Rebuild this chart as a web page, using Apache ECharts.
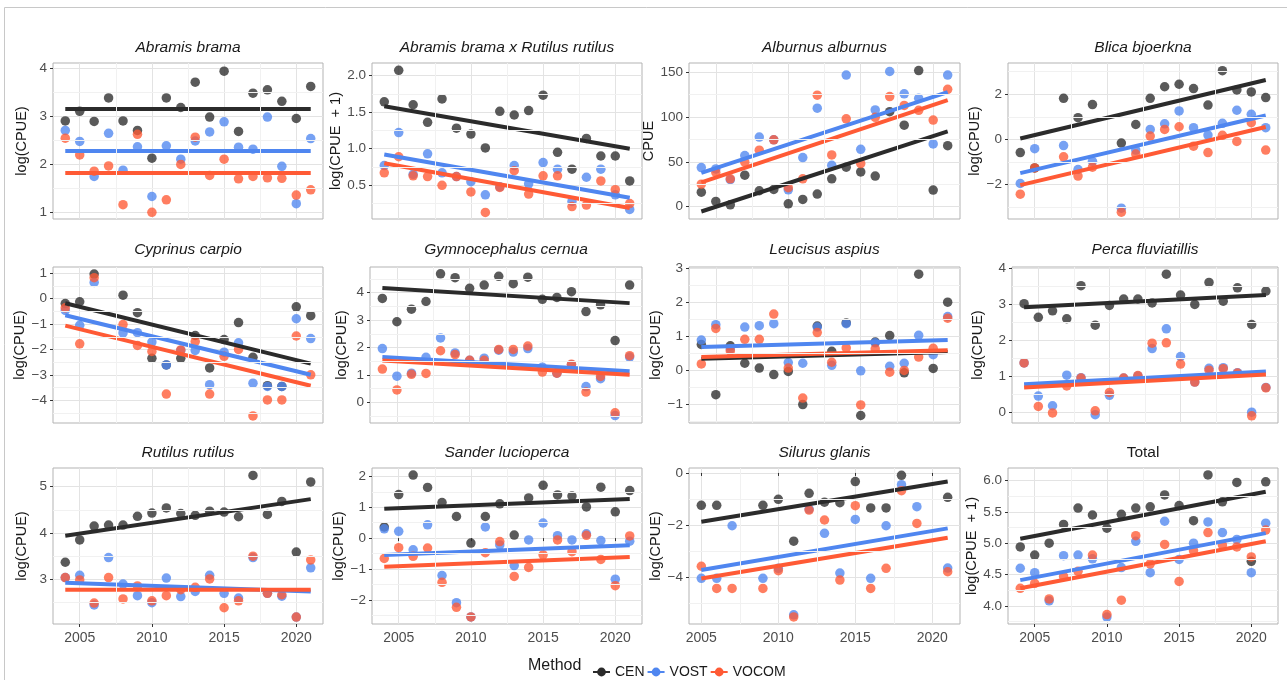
<!DOCTYPE html>
<html>
<head>
<meta charset="utf-8">
<title>CPUE trends by method</title>
<script src="https://cdn.jsdelivr.net/npm/echarts@6.0.0/dist/echarts.min.js"></script>
<style>
  html, body { margin: 0; padding: 0; background: #fff; }
  #main { width: 1287px; height: 680px; }
</style>
</head>
<body>
<div id="main"></div>
<script>
// values, one entry per year (null = no sample)
const years = [2004, 2005, 2006, 2007, 2008, 2009, 2010, 2011, 2012, 2013, 2014, 2015, 2016, 2017, 2018, 2019, 2020, 2021];
const methods = ['CEN', 'VOST', 'VOCOM'];
const speciesNames = ['Abramis brama', 'Abramis brama x Rutilus rutilus', 'Alburnus alburnus', 'Blica bjoerkna',
  'Cyprinus carpio', 'Gymnocephalus cernua', 'Leucisus aspius', 'Perca fluviatillis',
  'Rutilus rutilus', 'Sander lucioperca', 'Silurus glanis', 'Total'];
const yTitles = ['log(CPUE)', 'log(CPUE  + 1)', 'CPUE', 'log(CPUE)',
  'log(CPUE)', 'log(CPUE)', 'log(CPUE)', 'log(CPUE)',
  'log(CPUE)', 'log(CPUE)', 'log(CPUE)', 'log(CPUE  + 1)'];

const cenValues = [
  [2.91, 3.11, 2.90, 3.39, 2.91, 2.71, 2.13, 3.39, 3.19, 3.72, 2.99, 3.95, 2.69, 3.49, 3.56, 3.32, 2.96, 3.63],
  [1.64, 2.07, 1.60, 1.36, 1.68, 1.28, 1.20, 1.01, 1.51, 1.46, 1.52, 1.73, 0.95, 0.72, 1.14, 0.90, 0.90, 0.56],
  [16, 5.6, 1.9, 35, 17.6, 19, 3, 7.9, 13.9, 31, 44, 38.6, 34, 106, 91, 152, 18.4, 68],
  [-0.58, -1.26, null, 1.82, 0.96, 1.54, null, -0.16, 0.66, 1.82, 2.33, 2.44, 2.25, 1.52, 3.04, 2.19, 2.10, 1.85],
  [-0.19, -0.12, 0.97, null, 0.14, -0.55, -2.35, -2.61, -2.35, -1.45, -2.73, -1.61, -0.94, -2.31, -3.43, -3.46, -0.32, -0.67],
  [3.79, 2.94, 3.40, 3.68, 4.69, 4.55, 4.16, 4.28, 4.60, 4.33, 4.57, 3.76, 3.83, 4.04, 3.31, 3.56, 2.25, 4.28],
  [0.76, -0.71, 0.72, 0.21, 0.07, -0.12, -0.03, -1.00, 1.30, 0.56, 1.39, -1.32, 0.83, 1.02, -0.07, 2.82, 0.06, 2.00],
  [3.02, 2.64, 2.82, 2.60, 3.52, 2.42, 2.97, 3.15, 3.15, 3.04, 3.84, 3.26, 3.00, 3.61, 3.09, 3.46, 2.44, 3.37],
  [3.37, 3.85, 4.15, 4.17, 4.17, 4.36, 4.43, 4.54, 4.42, 4.38, 4.47, 4.45, 4.35, 5.24, 4.40, 4.68, 3.59, 5.10],
  [0.36, 1.41, 2.04, 1.64, 1.15, 0.70, -0.16, 0.70, 1.11, 0.10, 1.30, 1.71, 1.40, 1.36, 1.01, 1.65, 0.85, 1.54],
  [null, -1.24, -1.24, null, null, -1.24, -1.01, -2.61, -0.78, -1.12, -1.14, -0.33, -1.34, -1.34, -0.09, null, null, -0.93],
  [4.94, 4.81, 5.00, 5.30, 5.56, 5.45, 5.24, 5.46, 5.56, 5.58, 5.77, 5.60, 5.36, 6.09, 5.66, 5.97, 4.71, 5.98]
];
const vostValues = [
  [2.71, 2.48, 1.75, 2.65, 1.88, 2.37, 1.33, 2.39, 2.11, 2.49, 2.68, 2.89, 2.36, 2.32, 2.99, 1.96, 1.18, 2.54],
  [0.77, 1.22, 0.65, 0.93, 0.67, 0.62, 0.55, 0.37, 0.48, 0.77, 0.52, 0.81, 0.72, 0.28, 0.61, 0.72, 0.37, 0.17],
  [43.5, 42, 30, 57, 77.6, 74.6, 18.7, 54.7, 110, 46, 147, 64, 108, 151, 126, 121, 70, 147],
  [-1.95, -0.41, null, -0.27, -1.33, -0.97, null, -3.04, -0.47, 0.44, 0.69, 1.26, 0.52, 0.19, 0.71, 1.29, 1.11, 0.52],
  [-0.46, -1.05, 0.64, null, -1.35, -1.34, -1.71, -2.61, -2.04, -2.04, -3.39, -2.11, -1.74, -3.33, -3.46, -3.46, -0.79, -1.57],
  [1.96, 0.95, 1.06, 1.64, 2.35, 1.80, 1.53, 1.61, 1.90, 1.83, 1.96, 1.28, 1.06, 1.37, 0.57, 0.86, -0.49, 1.65],
  [0.89, 1.34, 0.63, 1.27, 1.31, 1.37, 0.23, 0.21, 1.27, 0.15, 1.37, -0.01, 0.81, 0.12, 0.21, 1.03, 0.46, 1.58],
  [1.37, 0.45, 0.18, 1.03, 0.96, -0.07, 0.47, 0.95, 1.01, 1.77, 2.32, 1.55, 0.84, 1.22, 1.24, 1.10, 0.00, 0.69],
  [3.04, 3.09, 2.45, 3.47, 2.90, 2.65, 2.50, 3.03, 2.63, 2.74, 3.09, 2.70, 2.60, 3.47, 2.70, 2.64, 2.19, 3.25],
  [0.30, 0.22, -0.38, 0.43, -1.21, -2.09, -2.55, 0.36, -0.22, -0.89, -0.06, 0.49, 0.08, -0.06, 0.14, -0.08, -1.33, -0.10],
  [null, -4.03, -4.03, -2.02, null, -4.03, -3.65, -5.43, -1.38, -2.31, -3.83, -1.78, -4.03, -2.02, -0.45, -1.29, null, -3.64],
  [4.60, 4.53, 4.08, 4.80, 4.81, 4.75, 3.82, 4.61, 5.03, 4.53, 5.35, 4.74, 5.00, 5.34, 5.17, 5.06, 4.53, 5.32]
];
const vocomValues = [
  [2.55, 2.20, 1.86, 1.97, 1.16, 2.63, 1.00, 1.26, 2.00, 2.57, 1.77, 2.11, 1.70, 1.75, 1.72, 1.71, 1.36, 1.47],
  [0.67, 0.89, 0.63, 0.62, 0.50, 0.62, 0.41, 0.13, 0.47, 0.70, 0.38, 0.63, 0.63, 0.21, 0.23, 0.56, 0.44, 0.25],
  [25, 38, 31, 49.5, 63, 74.6, 21, 31, 124.5, 57.7, 98, 48, 99.7, 123, 113, 107.6, 96.7, 131],
  [-2.42, -1.26, null, -0.77, -1.62, -1.23, null, -3.22, -0.65, 0.15, 0.44, 0.56, -0.30, -0.58, 0.18, -0.09, 0.74, -0.47],
  [-0.36, -1.78, 0.83, null, -1.02, -1.84, -2.08, -3.76, -2.02, -1.69, -3.76, -2.27, -2.00, -4.62, -3.99, -3.99, -1.47, -3.00],
  [1.21, 0.45, 1.02, 1.05, 1.88, 1.74, 1.53, 1.53, 1.93, 1.93, 2.05, 1.10, 1.06, 1.39, 0.37, 0.94, -0.39, 1.70],
  [0.19, 1.23, 0.57, 0.91, 0.91, 1.65, 0.07, -0.81, 1.11, 0.24, 0.66, -1.01, 0.63, -0.05, 0.00, 0.39, 0.65, 1.53],
  [1.37, 0.16, -0.02, 0.73, 0.95, 0.04, 0.55, 0.95, 1.02, 1.92, 1.93, 1.34, 0.84, 1.17, 1.21, 1.09, -0.10, 0.68],
  [3.04, 2.99, 2.49, 3.04, 2.58, 2.86, 2.54, 2.65, 2.78, 2.83, 3.01, 2.39, 2.54, 3.50, 2.70, 2.67, 2.19, 3.42],
  [-0.66, -0.31, -0.59, -0.32, -1.43, -2.24, -2.55, -0.47, -0.11, -1.24, -0.95, -0.54, -0.06, -0.44, 0.09, -0.69, -1.54, 0.07],
  [null, -3.57, -4.42, -4.42, null, -4.42, -3.74, -5.51, -1.42, -1.80, -4.10, -1.25, -4.42, -3.65, -0.68, -1.93, null, -3.78],
  [4.28, 4.36, 4.11, 4.47, 4.55, 4.81, 3.86, 4.09, 5.12, 4.67, 4.98, 4.39, 4.88, 5.17, 4.97, 4.94, 4.78, 5.21]
];

// fitted trend line, value at the first and last sampled year
const cenFit = [[3.16, 3.16], [1.58, 1.00], [-5.6, 84], [0.04, 2.63], [-0.18, -2.56], [4.17, 3.62],
  [0.34, 0.54], [2.92, 3.26], [3.94, 4.73], [0.95, 1.27], [-1.87, -0.33], [5.07, 5.82]];
const vostFit = [[2.28, 2.28], [0.92, 0.33], [37.5, 128], [-1.49, 1.06], [-0.65, -3.00], [1.65, 1.13],
  [0.69, 0.89], [0.78, 1.13], [2.93, 2.74], [-0.55, -0.23], [-3.71, -2.12], [4.41, 5.16]];
const vocomFit = [[1.82, 1.82], [0.80, 0.19], [27, 119], [-2.02, 0.55], [-1.06, -3.43], [1.52, 1.00],
  [0.39, 0.59], [0.69, 1.05], [2.78, 2.78], [-0.93, -0.61], [-4.04, -2.48], [4.28, 5.03]];

// axes
const xTicks = [2005, 2010, 2015, 2020];
const xMinorTicks = [2007.5, 2012.5, 2017.5];
const xLimits = [[2003.15, 2021.85], [2003.15, 2021.85], [2003.15, 2021.85], [2003.15, 2021.85],
  [2003.15, 2021.85], [2003.15, 2021.85], [2003.15, 2021.85], [2003.15, 2021.85],
  [2003.15, 2021.85], [2003.15, 2021.85], [2004.2, 2021.8], [2003.15, 2021.85]];
const yTicks = [[1, 2, 3, 4], [0.5, 1, 1.5, 2], [0, 50, 100, 150], [-2, 0, 2],
  [-4, -3, -2, -1, 0, 1], [0, 1, 2, 3, 4], [-1, 0, 1, 2, 3], [0, 1, 2, 3, 4],
  [3, 4, 5], [-2, -1, 0, 1, 2], [-4, -2, 0], [4, 4.5, 5, 5.5, 6]];
const yMinorTicks = [[1.5, 2.5, 3.5], [0.25, 0.75, 1.25, 1.75], [25, 75, 125], [-3, -1, 1, 3],
  [-4.5, -3.5, -2.5, -1.5, -0.5, 0.5], [-0.5, 0.5, 1.5, 2.5, 3.5, 4.5], [-1.5, -0.5, 0.5, 1.5, 2.5], [0.5, 1.5, 2.5, 3.5],
  [2.5, 3.5, 4.5], [-2.5, -1.5, -0.5, 0.5, 1.5], [-5, -3, -1], [3.75, 4.25, 4.75, 5.25, 5.75]];
const yLimits = [[0.86, 4.12], [0.04, 2.17], [-14, 160.5], [-3.52, 3.38],
  [-4.9, 1.25], [-0.76, 4.94], [-1.54, 3.03], [-0.3, 4.04],
  [2.04, 5.4], [-2.78, 2.27], [-5.78, 0.19], [3.71, 6.2]];
const yDigits = [0, 1, 0, 0, 0, 0, 0, 0, 0, 0, 0, 1];

// layout (px)
const plotLeft = [53, 372, 689, 1008, 53, 370, 689, 1012, 53, 372, 689, 1008];
const colRight = [323, 642, 960, 1278];
const rowTop = [63, 267, 468];
const rowTitleY = [49, 251, 454];
const plotHeight = 156;
const yNameX = [22, 342, 658, 978];
const lineColors = { CEN: '#2b2b2b', VOST: '#4f86f0', VOCOM: '#ff5a35' };
const gridColor = '#e3e3e3';
const minorColor = '#f1f1f1';

function tickFormatter(digits) {
  return function (v) {
    return v.toFixed(digits).replace('-', '\u2212');
  };
}

const grids = [], xAxes = [], yAxes = [], series = [], titles = [];

speciesNames.forEach(function (sp, i) {
  const row = Math.floor(i / 4), col = i % 4;
  const left = plotLeft[i];
  const bottomRow = row === 2;

  grids.push({
    left: left, top: rowTop[row], width: colRight[col] - left, height: plotHeight,
    show: true, borderColor: '#b3b3b3', borderWidth: 1, backgroundColor: '#fff',
    containLabel: false, outerBoundsMode: 'none'
  });

  xAxes.push({
    gridIndex: i, type: 'value', min: xLimits[i][0], max: xLimits[i][1],
    axisLine: { show: false },
    axisTick: { show: bottomRow, length: 3, customValues: xTicks, lineStyle: { color: '#333' } },
    axisLabel: { show: bottomRow, customValues: xTicks, margin: 7, fontSize: 14, color: '#4d4d4d',
      fontFamily: 'Liberation Sans, Arial, sans-serif', formatter: function (v) { return String(v); } },
    splitLine: { show: true, lineStyle: { color: gridColor, width: 1 } }
  });

  yAxes.push({
    gridIndex: i, type: 'value', min: yLimits[i][0], max: yLimits[i][1],
    name: yTitles[i], nameLocation: 'middle', nameGap: left - yNameX[col] - 7,
    nameTextStyle: { fontSize: 14.5, color: '#1a1a1a', fontFamily: 'Liberation Sans, Arial, sans-serif' },
    axisLine: { show: false },
    axisTick: { show: true, length: 3, customValues: yTicks[i], lineStyle: { color: '#333' } },
    axisLabel: { customValues: yTicks[i], margin: 6, fontSize: 13.5, color: '#4d4d4d',
      fontFamily: 'Liberation Sans, Arial, sans-serif', formatter: tickFormatter(yDigits[i]) },
    splitLine: { show: true, lineStyle: { color: gridColor, width: 1 } }
  });

  titles.push({
    text: sp, left: (left + colRight[col]) / 2, top: rowTitleY[row] - 9, textAlign: 'center', padding: 0,
    textStyle: { fontSize: 15.5, fontWeight: 'normal', fontStyle: sp === 'Total' ? 'normal' : 'italic',
      color: '#1a1a1a', fontFamily: 'Liberation Sans, Arial, sans-serif' }
  });

  // minor grid lines
  series.push({
    type: 'line', xAxisIndex: i, yAxisIndex: i, data: [], silent: true, z: 1,
    markLine: {
      silent: true, symbol: 'none', label: { show: false }, animation: false,
      lineStyle: { color: minorColor, width: 1, type: 'solid' },
      emphasis: { disabled: true },
      data: xMinorTicks.map(function (v) { return { xAxis: v }; })
        .concat(yMinorTicks[i].map(function (v) { return { yAxis: v }; }))
    }
  });

  const valueSets = [cenValues[i], vostValues[i], vocomValues[i]];
  const fits = [cenFit[i], vostFit[i], vocomFit[i]];

  // trend lines first so the legend picks their icon
  methods.forEach(function (m, k) {
    const sampled = years.filter(function (y, j) { return valueSets[k][j] !== null; });
    series.push({
      name: m, type: 'line', xAxisIndex: i, yAxisIndex: i, z: 4, silent: true,
      symbol: 'circle', showSymbol: false,
      lineStyle: { color: lineColors[m], width: 4 },
      itemStyle: { color: lineColors[m] },
      emphasis: { disabled: true },
      data: [[sampled[0], fits[k][0]], [sampled[sampled.length - 1], fits[k][1]]]
    });
  });

  methods.forEach(function (m, k) {
    const pts = [];
    years.forEach(function (y, j) {
      if (valueSets[k][j] !== null) pts.push([y, valueSets[k][j]]);
    });
    series.push({
      name: m, type: 'scatter', xAxisIndex: i, yAxisIndex: i, z: 3, silent: true,
      symbolSize: 9.5,
      itemStyle: { color: lineColors[m], opacity: 0.78 },
      emphasis: { disabled: true },
      data: pts
    });
  });
});

titles.push({
  text: 'Method', left: 528, top: 658, padding: 0,
  textStyle: { fontSize: 16, fontWeight: 'normal', color: '#1a1a1a', fontFamily: 'Liberation Sans, Arial, sans-serif' }
});

const chart = echarts.init(document.getElementById('main'), null, { renderer: 'canvas' });
chart.setOption({
  animation: false,
  backgroundColor: '#fff',
  title: titles,
  legend: {
    left: 587, top: 660, itemWidth: 17, itemHeight: 11, itemGap: 2, selectedMode: false,
    data: methods,
    textStyle: { fontSize: 14, color: '#1a1a1a', fontFamily: 'Liberation Sans, Arial, sans-serif' }
  },
  graphic: [{
    type: 'rect', silent: true, z: -10,
    shape: { x: 4.5, y: 7.5, width: 1300, height: 700 },
    style: { fill: 'none', stroke: '#c8c8c8', lineWidth: 1 }
  }],
  grid: grids,
  xAxis: xAxes,
  yAxis: yAxes,
  series: series
});
</script>
</body>
</html>
